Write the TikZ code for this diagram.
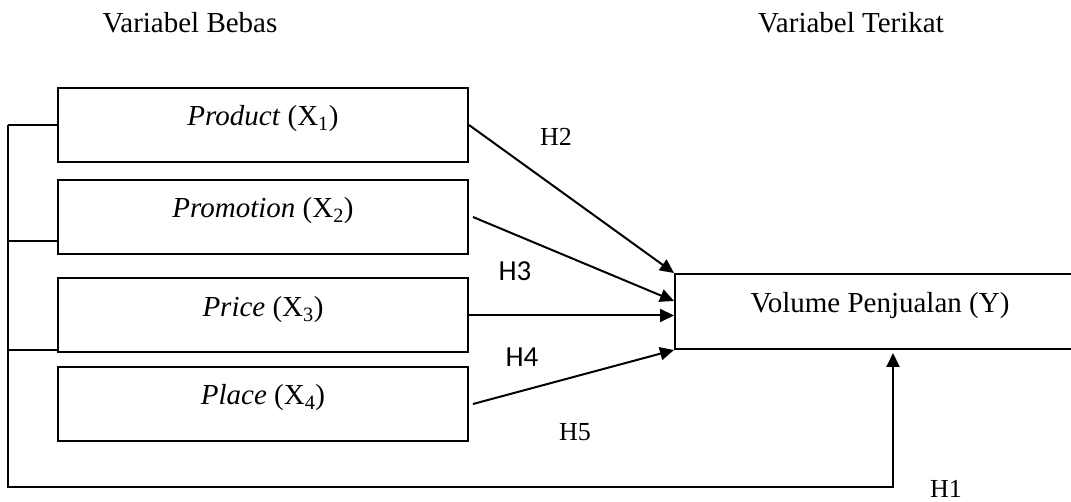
\documentclass[tikz,border=0pt]{standalone}
\usepackage{fontspec}
\setmainfont{Liberation Serif}
\newfontfamily\calibri{Carlito}
\usetikzlibrary{arrows.meta}

\begin{document}
\begin{tikzpicture}[x = 1pt, y = -1pt, line width = 2pt,
  varbox/.style = {draw, minimum width = 410pt, minimum height = 74pt,
    inner sep = 0pt, text height = 8pt, text depth = 6pt,
    font = \fontsize{29}{34}\selectfont},
  head/.style = {anchor = base, font = \fontsize{29}{34}\selectfont},
  hser/.style = {anchor = base, font = \fontsize{26}{30}\selectfont},
  hsans/.style = {anchor = base, font = \calibri\fontsize{29}{34}\selectfont},
  arr/.style = {-{Triangle[length = 14pt, width = 13pt]}}]
\useasboundingbox (0, 0) rectangle (1071, 502);

\node [head] (bebas) at (190, 33) {Variabel Bebas};
\node [head] (terikat) at (851, 33) {Variabel Terikat};

\node [varbox] (product) at (263, 125) {\textit{Product} (X\textsubscript{1})};
\node [varbox] (promotion) at (263, 217) {\textit{Promotion} (X\textsubscript{2})};
\node [varbox] (price) at (263, 315.5) {\textit{Price} (X\textsubscript{3})};
\node [varbox] (place) at (263, 404) {\textit{Place} (X\textsubscript{4})};
\node [varbox, minimum height = 75pt] (volume) at (880, 311.5) {Volume Penjualan (Y)};

\draw [arr] (product.east) -- (volume.north west);
\draw [arr] ([xshift = 4pt]promotion.east) -- ([yshift = -28pt]volume.north west);
\draw [arr] (price.east) -- (price.east -| volume.west);
\draw [arr] ([xshift = 4pt]place.east) -- (volume.south west);

\coordinate (bus) at (8, 125);
\coordinate (foot) at (893, 487);
\draw (product.west) -- (bus);
\draw ([yshift = -24pt]promotion.west) -- ([yshift = -24pt]promotion.west -| bus);
\draw ([yshift = 3pt]price.south west) -- ([yshift = 3pt]price.south west -| bus);
\draw [arr] (bus) |- (foot) -- ([yshift = -3pt]foot |- volume.south);

\node [hser] (h2) at (556, 146) {H2};
\node [hsans] (h3) at (515, 281) {H3};
\node [hsans] (h4) at (522, 367) {H4};
\node [hser] (h5) at (575, 440) {H5};
\node [hser] (h1) at (946, 497) {H1};
\end{tikzpicture}
\end{document}
